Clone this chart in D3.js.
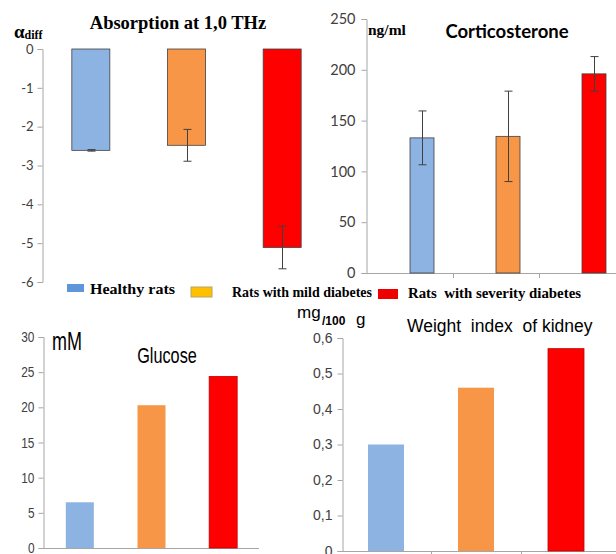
<!DOCTYPE html>
<html>
<head>
<meta charset="utf-8">
<script src="https://cdn.jsdelivr.net/npm/d3@7"></script>
<style>
  body { margin: 0; background: #fff; }
  text { white-space: pre; }
</style>
</head>
<body>
<svg id="chart"></svg>
<script>
// data
const groups = ["Healthy rats", "Rats with mild diabetes", "Rats  with severity diabetes"];
const barColors = ["#8db3e2", "#f79646", "#ff0000"];
const legendColors = ["#5f95db", "#ffc000", "#ee0000"];

const absorption = [-2.61, -2.48, -5.11];
const absorptionErr = [0.02, 0.41, 0.55];
const absorptionTicks = [0, -1, -2, -3, -4, -5, -6];

const corticosterone = [133, 134.5, 196];
const corticosteroneErr = [26.5, 44.5, 17];
const corticoTicks = [0, 50, 100, 150, 200, 250];

const glucose = [6.5, 20.3, 24.4];
const glucoseTicks = [0, 5, 10, 15, 20, 25, 30];

const kidney = [0.30, 0.46, 0.57];
const kidneyTicks = [0, 0.1, 0.2, 0.3, 0.4, 0.5, 0.6];

const W = 616, H = 554;
const svg = d3.select("#chart").attr("width", W).attr("height", H);

const serif = "'Liberation Serif', 'Times New Roman', serif";
const calib = "Lato, 'Open Sans', sans-serif";
const arial = "'Liberation Sans', Arial, sans-serif";
const axisGray = "#a6a6a6";

// generic y axis: line + ticks on the left + labels
function yAxis(g, y, x0, ticks, fmt, font, size, color, gap) {
    const ax = d3.axisLeft(y).tickValues(ticks).tickSize(5).tickPadding(gap).tickFormat(fmt);
    const a = g.append("g").attr("transform", `translate(${x0},0)`).call(ax);
    a.select(".domain").attr("stroke", axisGray);
    a.selectAll(".tick line").attr("stroke", axisGray);
    a.selectAll(".tick text").attr("font-family", font).attr("font-size", size).attr("fill", color);
    return a;
}

function errorBars(g, xc, y, vals, errs, cap) {
    const e = g.append("g").attr("stroke", "#404040").attr("stroke-width", 1);
    vals.forEach((v, i) => {
        const cx = Math.round(xc(i)) + 0.5;
        e.append("line").attr("x1", cx).attr("x2", cx).attr("y1", y(v - errs[i])).attr("y2", y(v + errs[i]));
        e.append("line").attr("x1", cx - cap).attr("x2", cx + cap).attr("y1", y(v - errs[i])).attr("y2", y(v - errs[i]));
        e.append("line").attr("x1", cx - cap).attr("x2", cx + cap).attr("y1", y(v + errs[i])).attr("y2", y(v + errs[i]));
    });
}

// ---------- panel 1: absorption ----------
{
    const g = svg.append("g");
    const x = d3.scaleBand().domain(groups).range([43, 330]);
    const y = d3.scaleLinear().domain([0, -6]).range([49, 282]);
    const bw = 38;
    const xc = i => x(groups[i]) + x.bandwidth() / 2;
    yAxis(g, y, 42.5, absorptionTicks, d => d3.format("d")(d).replace("−", "-"), calib, 13, "#404040", 4);
    g.selectAll(".bar").data(absorption).enter().append("rect")
        .attr("x", (d, i) => xc(i) - bw / 2)
        .attr("y", y(0))
        .attr("width", bw)
        .attr("height", d => y(d) - y(0))
        .attr("fill", (d, i) => barColors[i])
        .attr("stroke", "#404040").attr("stroke-width", 0.8);
    errorBars(g, xc, y, absorption, absorptionErr, 4);
    g.append("text").attr("x", 178).attr("y", 29).attr("text-anchor", "middle")
        .attr("font-family", serif).attr("font-weight", "bold").attr("font-size", 18.5)
        .text("Absorption at 1,0 THz");
    const lab = g.append("text").attr("x", 14).attr("y", 38).attr("font-family", serif).attr("font-weight", "bold");
    lab.append("tspan").attr("font-size", 19).text("α");
    lab.append("tspan").attr("font-size", 12).attr("dy", 1).text("diff");
}

// ---------- panel 2: corticosterone ----------
{
    const g = svg.append("g");
    const x = d3.scaleBand().domain(groups).range([379, 637]);
    const y = d3.scaleLinear().domain([0, 250]).range([273, 19]);
    const bw = 24;
    const xc = i => x(groups[i]) + x.bandwidth() / 2;
    yAxis(g, y, 366.5, corticoTicks, d3.format("d"), calib, 14.5, "#404040", 6);
    g.append("line").attr("x1", 366.5).attr("x2", W).attr("y1", 273.5).attr("y2", 273.5).attr("stroke", axisGray);
    [1, 2].forEach(i => {
        const tx = Math.round(xc(i - 1) + 31) + 0.5;
        g.append("line").attr("x1", tx).attr("x2", tx).attr("y1", 273.5).attr("y2", 278).attr("stroke", axisGray);
    });
    g.selectAll(".bar").data(corticosterone).enter().append("rect")
        .attr("x", (d, i) => xc(i) - bw / 2)
        .attr("y", d => y(d))
        .attr("width", bw)
        .attr("height", d => y(0) - y(d))
        .attr("fill", (d, i) => barColors[i])
        .attr("stroke", "#404040").attr("stroke-width", 0.8);
    errorBars(g, xc, y, corticosterone, corticosteroneErr, 4);
    g.append("text").attr("x", 368).attr("y", 35)
        .attr("font-family", serif).attr("font-weight", "bold").attr("font-size", 15.5).text("ng/ml");
    g.append("text").attr("x", 507).attr("y", 38).attr("text-anchor", "middle")
        .attr("font-family", calib).attr("font-weight", "bold").attr("font-size", 18.5).text("Corticosterone");
}

// ---------- legend ----------
{
    const g = svg.append("g").attr("font-family", serif).attr("font-weight", "bold").attr("font-size", 14.5);
    const sq = [[67, 284, 17, 8], [191, 287, 21, 10], [378, 289, 20, 10]];
    const tx = [[90, 294, 85], [232, 297, 140], [408, 298, 173]];
    groups.forEach((name, i) => {
        g.append("rect").attr("x", sq[i][0]).attr("y", sq[i][1]).attr("width", sq[i][2]).attr("height", sq[i][3])
            .attr("fill", legendColors[i]).attr("stroke", i === 1 ? "#b7a36a" : "none");
        g.append("text").attr("x", tx[i][0]).attr("y", tx[i][1])
            .attr("textLength", tx[i][2]).attr("lengthAdjust", "spacingAndGlyphs").text(name);
    });
}

// ---------- panel 3: glucose (narrow face, faked by squeezing) ----------
{
    const g = svg.append("g");
    const x = d3.scaleBand().domain(groups).range([44, 259]);
    const y = d3.scaleLinear().domain([0, 30]).range([548, 337]);
    const bw = 28;
    const xc = i => x(groups[i]) + x.bandwidth() / 2;
    const a = yAxis(g, y, 43.5, glucoseTicks, d3.format("d"), arial, 14.5, "#404040", 6);
    a.selectAll(".tick text").attr("transform", "scale(0.82,1)");
    g.append("line").attr("x1", 43.5).attr("x2", 259).attr("y1", 548.5).attr("y2", 548.5).attr("stroke", axisGray);
    g.selectAll(".bar").data(glucose).enter().append("rect")
        .attr("x", (d, i) => xc(i) - bw / 2)
        .attr("y", d => y(d))
        .attr("width", bw)
        .attr("height", d => y(0) - y(d))
        .attr("fill", (d, i) => barColors[i])
        .attr("stroke", (d, i) => i === 2 ? "#c00000" : "none").attr("stroke-width", 0.8);
    g.append("text").attr("transform", "translate(52,350) scale(0.72,1)")
        .attr("font-family", arial).attr("font-size", 25).text("mM");
    g.append("text").attr("transform", "translate(167,363) scale(0.74,1)").attr("text-anchor", "middle")
        .attr("font-family", arial).attr("font-size", 22).text("Glucose");
}

// ---------- panel 4: kidney ----------
{
    const g = svg.append("g");
    const x = d3.scaleBand().domain(groups).range([341, 611]);
    const y = d3.scaleLinear().domain([0, 0.6]).range([551, 338]);
    const bw = 36;
    const xc = i => x(groups[i]) + x.bandwidth() / 2;
    yAxis(g, y, 342.5, kidneyTicks, d => d === 0 ? "0" : d3.format(".1f")(d).replace(".", ","), arial, 14, "#404040", 5);
    g.append("line").attr("x1", 342.5).attr("x2", W).attr("y1", 551.5).attr("y2", 551.5).attr("stroke", axisGray);
    [1, 2].forEach(i => {
        const tx = Math.round(x(groups[i])) + 0.5;
        g.append("line").attr("x1", tx).attr("x2", tx).attr("y1", 551.5).attr("y2", 556).attr("stroke", axisGray);
    });
    g.selectAll(".bar").data(kidney).enter().append("rect")
        .attr("x", (d, i) => xc(i) - bw / 2)
        .attr("y", d => y(d))
        .attr("width", bw)
        .attr("height", d => y(0) - y(d))
        .attr("fill", (d, i) => barColors[i])
        .attr("stroke", (d, i) => i === 2 ? "#c00000" : "none").attr("stroke-width", 0.8);
    g.append("text").attr("x", 297).attr("y", 318).attr("font-family", arial).attr("font-size", 17).text("mg");
    g.append("text").attr("x", 322).attr("y", 325).attr("font-family", arial).attr("font-weight", "bold").attr("font-size", 12).text("/100");
    g.append("text").attr("x", 356).attr("y", 325).attr("font-family", arial).attr("font-size", 17).text("g");
    g.append("text").attr("x", 407).attr("y", 332).attr("font-family", arial).attr("font-size", 17.5).text("Weight  index  of kidney");
}
</script>
</body>
</html>
